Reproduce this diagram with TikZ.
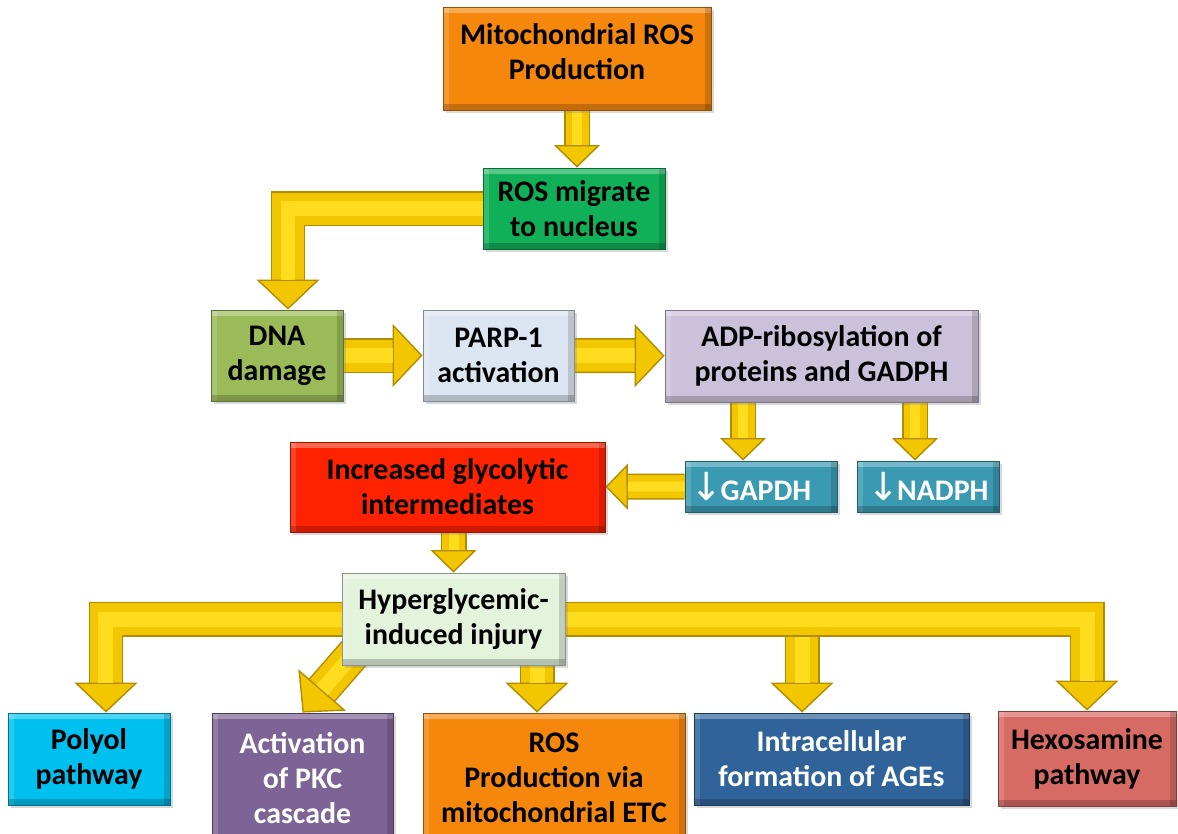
\documentclass[tikz,border=0pt]{standalone}
\usepackage{fontspec}
\setmainfont{Carlito}
\newfontfamily\arrowfont{DejaVu Sans}
\usetikzlibrary{arrows.meta,backgrounds,shadows}

\definecolor{mitoorange}{HTML}{F5870C}
\definecolor{migreen}{HTML}{10B058}
\definecolor{dnagreen}{HTML}{9BBB59}
\definecolor{parpblue}{HTML}{DCE6F2}
\definecolor{adplilac}{HTML}{CCC1DA}
\definecolor{dropteal}{HTML}{3A9AB2}
\definecolor{glyred}{HTML}{FF2200}
\definecolor{hyperpale}{HTML}{E4F3DC}
\definecolor{polyolcyan}{HTML}{00C0F0}
\definecolor{pkcpurple}{HTML}{7E6496}
\definecolor{agesblue}{HTML}{2F6399}
\definecolor{hexored}{HTML}{D86A64}
\definecolor{arrowgold}{HTML}{F2C600}
\definecolor{arrowlight}{HTML}{FFDC1E}
\definecolor{arrowedge}{HTML}{B08C00}

\newcommand{\dnarrow}{{\arrowfont\mdseries\fontsize{22}{20}\selectfont ↓}\kern-1.5pt}

\tikzset{
  box/.style={rectangle, fill=#1, draw=#1!60!black, line width=0.5pt,
    align=center, inner sep=2pt,
    font=\bfseries\fontsize{17}{20}\selectfont,
    drop shadow={opacity=0.3, shadow xshift=1.5pt, shadow yshift=-1.5pt},
    path picture={
      \fill[white, opacity=0.3] (path picture bounding box.north west) rectangle ([yshift=-3.5pt]path picture bounding box.north east);
      \fill[white, opacity=0.15] (path picture bounding box.north west) rectangle ([xshift=3.5pt]path picture bounding box.south west);
      \fill[black, opacity=0.2] (path picture bounding box.south west) rectangle ([yshift=3.5pt]path picture bounding box.south east);
      \fill[black, opacity=0.15] (path picture bounding box.north east) rectangle ([xshift=-3.5pt]path picture bounding box.south east);
    }},
  bigarrow/.style={draw=arrowgold, line width=0.64cm,
    -{Triangle[length=0.6cm, width=1.26cm, line width=0.8pt, fill=arrowgold, color=arrowedge]},
    preaction={draw=arrowedge, line width=0.70cm, shorten >=0.4cm, -},
    postaction={draw=arrowlight, line width=0.3cm, shorten >=0.6cm, -}},
  smallarrow/.style={draw=arrowgold, line width=0.46cm,
    -{Triangle[length=0.45cm, width=0.92cm, line width=0.8pt, fill=arrowgold, color=arrowedge]},
    preaction={draw=arrowedge, line width=0.52cm, shorten >=0.3cm, -},
    postaction={draw=arrowlight, line width=0.2cm, shorten >=0.45cm, -}},
}

\begin{document}
\begin{tikzpicture}[x=0.02cm, y=-0.02cm]
  \useasboundingbox (0,0) rectangle (1178,833);

  % Top chain
  \node[box=mitoorange, minimum width=5.36cm, minimum height=2.06cm] (mito) at (577,58.5) {Mitochondrial ROS\\Production\rule[-8pt]{0pt}{8pt}};
  \node[box=migreen, minimum width=3.64cm, minimum height=1.62cm] (mig) at (574,208.5) {ROS migrate\\to nucleus};

  % Nucleus row
  \node[box=dnagreen, minimum width=2.64cm, minimum height=1.82cm] (dna) at (277,355.5) {DNA\\damage};
  \node[box=parpblue, minimum width=3.02cm, minimum height=1.82cm] (parp) at (498.5,355.5) {PARP-1\\activation};
  \node[box=adplilac, minimum width=6.26cm, minimum height=1.84cm] (adp) at (821.5,356) {ADP-ribosylation of\\proteins and GADPH};

  % Decreased enzymes and glycolysis
  \node[box=dropteal, text=white, minimum width=3.04cm, minimum height=1.02cm] (gapdh) at (761,486.5) {\dnarrow GAPDH\kern0.4cm};
  \node[box=dropteal, text=white, minimum width=2.84cm, minimum height=1.02cm] (nadph) at (928,486.5) {\dnarrow NADPH};
  \node[box=glyred, minimum width=6.3cm, minimum height=1.8cm] (incr) at (447.5,487) {Increased glycolytic\\intermediates};
  \node[box=hyperpale, minimum width=4.46cm, minimum height=1.84cm] (hyper) at (453.5,619) {Hyperglycemic-\\induced injury};

  % Pathways
  \node[box=polyolcyan, minimum width=3.24cm, minimum height=1.84cm] (polyol) at (89,759) {Polyol\\pathway};
  \node[box=pkcpurple, text=white, minimum width=3.62cm, minimum height=2.6cm] (pkc) at (302.5,778) {Activation\\of PKC\\cascade};
  \node[box=mitoorange, minimum width=5.24cm, minimum height=2.6cm] (etc) at (554,778) {ROS\\Production via\\mitochondrial ETC};
  \node[box=agesblue, text=white, minimum width=5.5cm, minimum height=1.84cm] (ages) at (831.5,759) {Intracellular\\formation of AGEs};
  \node[box=hexored, minimum width=3.56cm, minimum height=1.9cm] (hexo) at (1087,758.5) {Hexosamine\\pathway};

  \coordinate (gapin) at ([xshift=-0.36cm]gapdh.north);
  \coordinate (nadin) at ([xshift=-0.26cm]nadph.north);
  \coordinate (etcin) at ([xshift=-0.34cm]etc.north);
  \coordinate (agesbr) at (802,619);

  \begin{pgfonlayer}{background}
    \draw[smallarrow] (mito) -- (mito |- mig.north);
    \draw[bigarrow] (mig) -| ([xshift=0.22cm]dna.north);
    \draw[bigarrow] (dna) -- (parp);
    \draw[bigarrow] (parp) -- (adp);
    \draw[smallarrow] (gapin |- adp.south) -- (gapin);
    \draw[smallarrow] (nadin |- adp.south) -- (nadin);
    \draw[smallarrow] (gapdh) -- (incr);
    \draw[smallarrow] (hyper |- incr.south) -- (hyper.north);
    % branches from the injury box
    \draw[bigarrow] (agesbr) -- (agesbr |- ages.north);
    \draw[bigarrow] (etcin |- hyper.south) -- (etcin);
    \draw[bigarrow] ([shift={(0.3cm,0.3cm)}]hyper.south west) -- (pkc.north);
    \draw[bigarrow] (hyper) -| ([xshift=0.34cm]polyol.north);
    \draw[bigarrow] (hyper) -| (hexo.north);
  \end{pgfonlayer}
\end{tikzpicture}
\end{document}
